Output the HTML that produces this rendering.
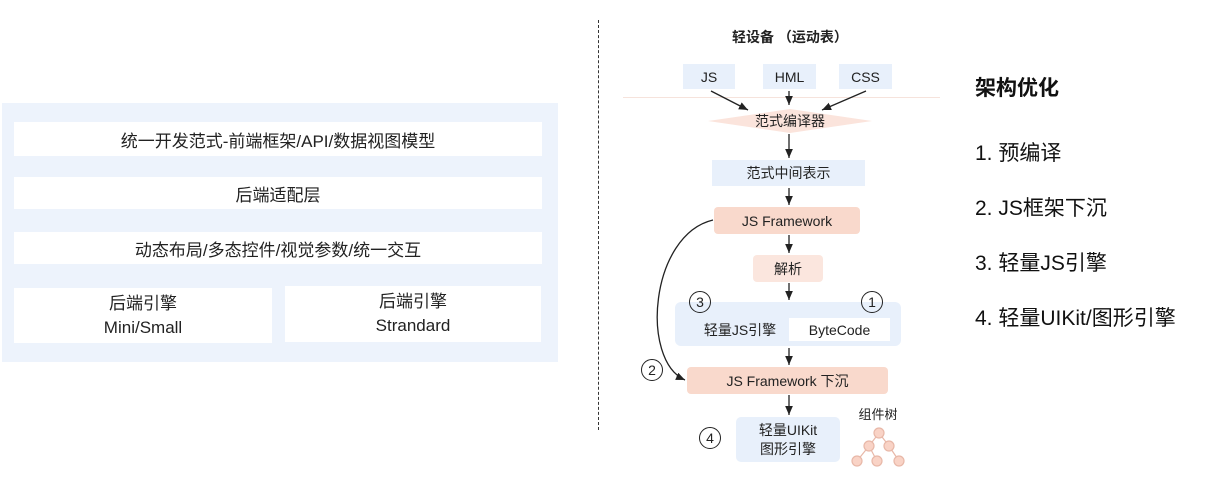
<!DOCTYPE html>
<html><head><meta charset="utf-8"><style>
body{margin:0;width:1232px;height:500px;background:#fff;position:relative;overflow:hidden;font-family:"Liberation Sans","Noto Sans CJK SC",sans-serif;color:#222}
.a{position:absolute;display:flex;align-items:center;justify-content:center;text-align:center;box-sizing:border-box}
.w{background:#fff;font-size:17px}
.b{background:#e8f0fb;font-size:14px}
.p{background:#f9d9cc;font-size:14px;border-radius:4px}
.c{position:absolute;width:22px;height:22px;border:1.5px solid #222;border-radius:50%;font-size:14px;display:flex;align-items:center;justify-content:center;box-sizing:border-box;background:transparent}
.t{position:absolute;font-size:21px;color:#111}
</style></head><body>
<div class="a" style="left:2px;top:103px;width:556px;height:259px;background:#edf3fc"></div>
<div class="a w" style="left:14px;top:122px;width:528px;height:34px">统一开发范式-前端框架/API/数据视图模型</div>
<div class="a w" style="left:14px;top:177px;width:528px;height:32px">后端适配层</div>
<div class="a w" style="left:14px;top:232px;width:528px;height:32px">动态布局/多态控件/视觉参数/统一交互</div>
<div class="a w" style="left:14px;top:288px;width:258px;height:55px;line-height:24px">后端引擎<br>Mini/Small</div>
<div class="a w" style="left:285px;top:286px;width:256px;height:56px;line-height:24px">后端引擎<br>Strandard</div>

<div style="position:absolute;left:598px;top:20px;height:410px;border-left:1.5px dashed #333"></div>
<div style="position:absolute;left:623px;top:97px;width:317px;border-top:1px solid #f6e3dc"></div>
<div class="a" style="left:700px;top:26px;width:180px;height:22px;font-size:14px;font-weight:bold">轻设备 （运动表）</div>
<div class="a b" style="left:683px;top:64px;width:52px;height:25px">JS</div>
<div class="a b" style="left:763px;top:64px;width:53px;height:25px">HML</div>
<div class="a b" style="left:839px;top:64px;width:53px;height:25px">CSS</div>
<svg style="position:absolute;left:0;top:0" width="1232" height="500">
<defs><marker id="m" markerWidth="8" markerHeight="8" refX="7" refY="4" orient="auto"><path d="M0,1 L7,4 L0,7 Z" fill="#222"/></marker></defs>
<polygon points="708,121 790,109 872,121 790,133" fill="#fbe4dc"/>
<g stroke="#222" stroke-width="1.3" fill="none" marker-end="url(#m)">
<line x1="711" y1="91" x2="748" y2="110"/>
<line x1="789" y1="91" x2="789" y2="105"/>
<line x1="866" y1="91" x2="822" y2="110"/>
<line x1="789" y1="134" x2="789" y2="158"/>
<line x1="789" y1="188" x2="789" y2="205"/>
<line x1="789" y1="235" x2="789" y2="253"/>
<line x1="789" y1="283" x2="789" y2="300"/>
<line x1="789" y1="348" x2="789" y2="365"/>
<line x1="789" y1="395" x2="789" y2="415"/>
<path d="M713,220 C650,235 640,360 685,380"/>
</g>
<g stroke="#e8b8a8" stroke-width="1.2" fill="#f9d3c6">
<line x1="879" y1="433" x2="869" y2="446"/><line x1="879" y1="433" x2="889" y2="446"/>
<line x1="869" y1="446" x2="857" y2="461"/><line x1="869" y1="446" x2="877" y2="461"/><line x1="889" y1="446" x2="899" y2="461"/>
<circle cx="879" cy="433" r="5"/><circle cx="869" cy="446" r="5"/><circle cx="889" cy="446" r="5"/>
<circle cx="857" cy="461" r="5"/><circle cx="877" cy="461" r="5"/><circle cx="899" cy="461" r="5"/>
</g>
</svg>
<div class="a" style="left:740px;top:110px;width:100px;height:22px;font-size:14px">范式编译器</div>
<div class="a b" style="left:712px;top:160px;width:153px;height:26px">范式中间表示</div>
<div class="a p" style="left:714px;top:207px;width:146px;height:27px">JS Framework</div>
<div class="a" style="left:753px;top:255px;width:70px;height:27px;background:#fbe6de;font-size:14px;border-radius:4px">解析</div>
<div class="a" style="left:675px;top:302px;width:226px;height:44px;background:#e8f0fb;border-radius:6px"></div>
<div class="a" style="left:690px;top:318px;width:100px;height:24px;font-size:14px">轻量JS引擎</div>
<div class="a" style="left:789px;top:318px;width:101px;height:23px;background:#fff;font-size:14px">ByteCode</div>
<div class="c" style="left:689px;top:291px">3</div>
<div class="c" style="left:861px;top:291px">1</div>
<div class="a p" style="left:687px;top:367px;width:201px;height:27px">JS Framework 下沉</div>
<div class="c" style="left:641px;top:359px">2</div>
<div class="a b" style="left:736px;top:417px;width:104px;height:45px;line-height:19px;border-radius:5px">轻量UIKit<br>图形引擎</div>
<div class="c" style="left:699px;top:427px">4</div>
<div class="a" style="left:850px;top:404px;width:56px;height:18px;font-size:13px">组件树</div>

<div class="t" style="left:975px;top:72px;font-weight:bold">架构优化</div>
<div class="t" style="left:975px;top:137px">1. 预编译</div>
<div class="t" style="left:975px;top:192px">2. JS框架下沉</div>
<div class="t" style="left:975px;top:247px">3. 轻量JS引擎</div>
<div class="t" style="left:975px;top:302px">4. 轻量UIKit/图形引擎</div>
</body></html>
